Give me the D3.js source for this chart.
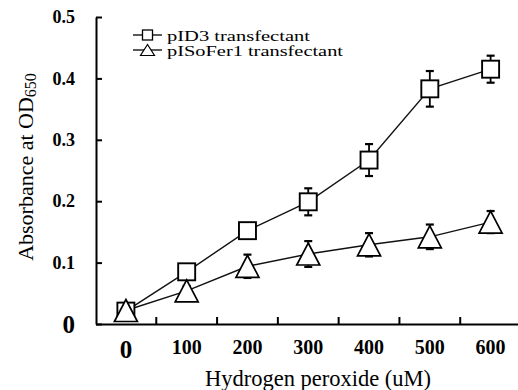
<!DOCTYPE html>
<html>
<head>
<meta charset="utf-8">
<script src="https://cdn.jsdelivr.net/npm/d3@7"></script>
<style>
  body { margin: 0; background: #fff; }
  svg { display: block; }
</style>
</head>
<body>
<div id="chart"></div>
<script>
// Hydrogen peroxide dose (uM)
const doses = [0, 100, 200, 300, 400, 500, 600];
// pID3 transfectant
const pid3 = [0.021, 0.085, 0.152, 0.199, 0.267, 0.383, 0.415];
const pid3Err = [0.004, 0.008, 0.008, 0.022, 0.026, 0.029, 0.022];
// pISoFer1 transfectant
const piso = [0.022, 0.054, 0.094, 0.114, 0.129, 0.142, 0.166];
const pisoErr = [0.004, 0.008, 0.019, 0.021, 0.019, 0.02, 0.018];
const yTicks = [0, 0.1, 0.2, 0.3, 0.4, 0.5];

const SERIF = '"Liberation Serif", "DejaVu Serif", serif';
const W = 518, H = 390;
const svg = d3.select('#chart').append('svg')
  .attr('width', W).attr('height', H)
  .attr('font-family', SERIF);

const x = d3.scaleBand().domain(doses).range([95.5, 521]);
const y = d3.scaleLinear().domain([0, 0.5]).range([324, 17]);
const cx = d => x(d) + x.bandwidth() / 2;

// y axis
const yAxis = svg.append('g')
  .attr('transform', 'translate(96,0)')
  .call(d3.axisLeft(y).tickValues(yTicks)
    .tickSizeInner(-6).tickSizeOuter(0).tickPadding(21)
    .tickFormat(d => d === 0 ? '0' : d3.format('.1f')(d)));
yAxis.selectAll('text')
  .style('font-size', d => d === 0 ? '25px' : '18px')
  .style('font-weight', 'bold');

// x axis (labels at centers, ticks at category boundaries)
const xAxis = svg.append('g')
  .attr('transform', 'translate(0,324)')
  .call(d3.axisBottom(x).tickSize(0).tickPadding(16));
xAxis.selectAll('text')
  .style('font-size', d => d === 0 ? '25px' : '20px')
  .style('font-weight', 'bold');
xAxis.selectAll('.bnd').data(doses.slice(1)).enter().append('line')
  .attr('x1', d => x(d)).attr('x2', d => x(d))
  .attr('y1', 0).attr('y2', -7);

svg.selectAll('.domain, .tick line, g line')
  .attr('stroke', '#000').attr('stroke-width', 2);

// axis titles
svg.append('text')
  .attr('x', 318).attr('y', 386)
  .attr('text-anchor', 'middle')
  .style('font-size', '22.5px')
  .text('Hydrogen peroxide (uM)');

const yl = svg.append('text')
  .attr('transform', 'translate(33,167) rotate(-90)')
  .attr('text-anchor', 'middle')
  .style('font-size', '22px');
yl.append('tspan').text('Absorbance at OD');
yl.append('tspan').attr('dy', 3).style('font-size', '16px').text('650');

// series
const series = [
  { vals: pid3, err: pid3Err, shape: 'square' },
  { vals: piso, err: pisoErr, shape: 'triangle' }
];

const line = d3.line().x((v, i) => cx(doses[i])).y(v => y(v));

series.forEach(s => {
  svg.append('path')
    .attr('d', line(s.vals))
    .attr('fill', 'none').attr('stroke', '#111').attr('stroke-width', 1.4);
});

series.forEach(s => {
  const g = svg.append('g').attr('stroke', '#000').attr('stroke-width', 1.8);
  s.vals.forEach((v, i) => {
    const px = cx(doses[i]);
    const lo = y(v - s.err[i]), hi = y(v + s.err[i]);
    g.append('line').attr('x1', px).attr('x2', px).attr('y1', lo).attr('y2', hi);
    g.append('line').attr('x1', px - 4).attr('x2', px + 4).attr('y1', lo).attr('y2', lo).attr('stroke-width', 2.2);
    g.append('line').attr('x1', px - 4).attr('x2', px + 4).attr('y1', hi).attr('y2', hi).attr('stroke-width', 2.2);
  });
});

const triPath = (w, h) => `M0,${-h / 2}L${w / 2},${h / 2}L${-w / 2},${h / 2}Z`;

function marker(g, shape, px, py, big) {
  if (shape === 'square') {
    const s = big ? 17 : 10;
    g.append('rect')
      .attr('x', px - s / 2).attr('y', py - s / 2)
      .attr('width', s).attr('height', s)
      .attr('fill', '#fff').attr('stroke', '#000').attr('stroke-width', big ? 1.9 : 1.3);
  } else {
    g.append('path')
      .attr('d', big ? triPath(23, 22) : triPath(14, 11))
      .attr('transform', `translate(${px},${py})`)
      .attr('fill', '#fff').attr('stroke', '#000').attr('stroke-width', big ? 1.7 : 1.2);
  }
}

series.forEach(s => {
  const g = svg.append('g');
  s.vals.forEach((v, i) => marker(g, s.shape, cx(doses[i]), y(v), true));
});

// legend
const legend = [
  { label: 'pID3 transfectant', shape: 'square', yc: 35, len: 143 },
  { label: 'pISoFer1 transfectant', shape: 'triangle', yc: 50, len: 176 }
];
legend.forEach(l => {
  const g = svg.append('g');
  g.append('line').attr('x1', 133).attr('x2', 162)
    .attr('y1', l.yc).attr('y2', l.yc)
    .attr('stroke', '#000').attr('stroke-width', 1.3);
  marker(g, l.shape, 147.5, l.yc, false);
  g.append('text')
    .attr('x', 167).attr('y', l.yc + 6)
    .attr('textLength', l.len).attr('lengthAdjust', 'spacingAndGlyphs')
    .style('font-size', '15px')
    .text(l.label);
});

// make sure every label uses the serif face (axis groups set sans-serif)
svg.selectAll('text').style('font-family', SERIF).attr('fill', '#000');
</script>
</body>
</html>
